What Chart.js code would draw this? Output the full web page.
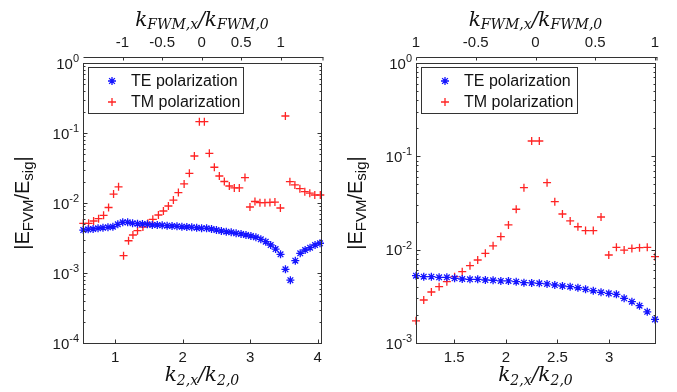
<!DOCTYPE html>
<html>
<head>
<meta charset="utf-8">
<script src="https://cdn.jsdelivr.net/npm/chart.js@4.4.0/dist/chart.umd.min.js"></script>
<style>
body { margin: 0; background: #fff; }
#wrap { position: relative; width: 677px; height: 392px; }
.pane { position: absolute; top: 0; height: 392px; }
</style>
</head>
<body>
<div id="wrap">
  <div class="pane" style="left:0;width:340px"><canvas id="leftChart" width="340" height="392"></canvas></div>
  <div class="pane" style="left:340px;width:337px"><canvas id="rightChart" width="337" height="392"></canvas></div>
</div>
<script>
// series names
const seriesNames = ['TE polarization', 'TM polarization'];

// left panel: k2,x/k2,0 from ~0.5 to ~4
const leftTeX = [0.526,0.599,0.672,0.745,0.818,0.892,0.965,1.038,1.111,1.184,1.257,1.330,1.403,1.476,1.549,1.623,1.696,1.769,1.842,1.915,1.988,2.061,2.134,2.207,2.280,2.354,2.427,2.500,2.573,2.646,2.719,2.792,2.865,2.938,3.011,3.085,3.158,3.231,3.304,3.377,3.450,3.523,3.596,3.669,3.742,3.815,3.888,3.962,4.035];
const leftTeY = [4.11e-3,4.20e-3,4.25e-3,4.35e-3,4.44e-3,4.50e-3,4.58e-3,4.96e-3,5.30e-3,5.30e-3,5.13e-3,5.06e-3,5.01e-3,4.96e-3,4.85e-3,4.85e-3,4.80e-3,4.74e-3,4.69e-3,4.65e-3,4.58e-3,4.54e-3,4.50e-3,4.44e-3,4.35e-3,4.35e-3,4.25e-3,4.11e-3,3.98e-3,3.89e-3,3.81e-3,3.69e-3,3.61e-3,3.49e-3,3.38e-3,3.24e-3,3.03e-3,2.80e-3,2.51e-3,2.20e-3,1.85e-3,1.13e-3,7.9e-4,1.50e-3,1.91e-3,2.13e-3,2.30e-3,2.51e-3,2.66e-3];
const leftTmX = [0.526,0.605,0.679,0.753,0.827,0.901,0.975,1.049,1.123,1.197,1.262,1.330,1.410,1.484,1.557,1.640,1.714,1.788,1.862,1.936,2.021,2.099,2.173,2.247,2.321,2.395,2.469,2.543,2.617,2.691,2.765,2.839,2.923,2.997,3.071,3.145,3.219,3.293,3.367,3.448,3.522,3.589,3.663,3.737,3.810,3.884,3.958,4.040];
const leftTmY = [5.13e-3,5.13e-3,5.53e-3,5.97e-3,6.67e-3,8.63e-3,1.34e-2,1.70e-2,1.77e-3,2.89e-3,3.49e-3,4.02e-3,4.54e-3,5.13e-3,5.85e-3,6.74e-3,7.69e-3,9.06e-3,1.10e-2,1.41e-2,1.87e-2,2.65e-2,4.69e-2,0.145,0.145,5.13e-2,3.24e-2,2.43e-2,2.03e-2,1.75e-2,1.64e-2,1.64e-2,2.31e-2,8.77e-3,1.05e-2,1.01e-2,1.01e-2,1.02e-2,1.03e-2,8.49e-3,0.175,2.02e-2,1.81e-2,1.60e-2,1.45e-2,1.38e-2,1.30e-2,1.30e-2];

// right panel: k2,x/k2,0 from ~1.13 to ~3.44
const rightX = [1.129,1.204,1.278,1.353,1.428,1.503,1.577,1.652,1.727,1.801,1.876,1.951,2.025,2.100,2.175,2.250,2.324,2.399,2.474,2.548,2.623,2.698,2.772,2.847,2.922,2.997,3.071,3.146,3.221,3.295,3.370,3.445];
const rightTeY = [5.26e-3,5.13e-3,5.13e-3,5.06e-3,5.06e-3,4.93e-3,4.85e-3,4.81e-3,4.81e-3,4.73e-3,4.70e-3,4.62e-3,4.62e-3,4.54e-3,4.43e-3,4.40e-3,4.36e-3,4.29e-3,4.18e-3,4.08e-3,4.01e-3,3.91e-3,3.76e-3,3.63e-3,3.49e-3,3.40e-3,3.32e-3,3.01e-3,2.77e-3,2.51e-3,2.16e-3,1.79e-3];
const rightTmY = [1.73e-3,2.89e-3,3.52e-3,4.01e-3,4.54e-3,5.13e-3,5.81e-3,6.73e-3,7.75e-3,9.14e-3,1.10e-2,1.38e-2,1.84e-2,2.71e-2,4.61e-2,0.146,0.146,5.22e-2,3.27e-2,2.41e-2,2.03e-2,1.76e-2,1.60e-2,1.60e-2,2.24e-2,8.77e-3,1.06e-2,9.91e-3,1.03e-2,1.05e-2,1.06e-2,8.41e-3];

// ticks
const leftBottomTicks = [1, 2, 3, 4];
const leftTopTicks = [-1, -0.5, 0, 0.5, 1];
const leftTopLabels = ['-1', '-0.5', '0', '0.5', '1'];
const leftDecades = [-4, -3, -2, -1, 0];
const rightBottomTicks = [1.5, 2, 2.5, 3];
const rightTopTicks = [-1, -0.5, 0, 0.5, 1];
const rightTopLabels = ['1', '-0.5', '0', '0.5', '1'];
const rightDecades = [-3, -2, -1, 0];

const SANS = '"Liberation Sans", Arial, sans-serif';
const SERIF = '"DejaVu Serif", serif';
const BLUE = '#1414ff';
const RED = '#ff2424';
const AXIS = '#333333';

function pts(xs, ys) {
    return xs.map((x, i) => ({ x: x, y: ys[i] }));
}

// text with subscripts, parts = [[text, isSub], ...]
function drawRich(ctx, parts, cx, y, mainFont, subFont, subDy) {
    let w = 0;
    parts.forEach(p => { ctx.font = p[1] ? subFont : mainFont; w += ctx.measureText(p[0]).width; });
    let x = cx - w / 2;
    ctx.textAlign = 'left';
    ctx.textBaseline = 'alphabetic';
    parts.forEach(p => {
        ctx.font = p[1] ? subFont : mainFont;
        ctx.fillText(p[0], x, p[1] ? y + subDy : y);
        x += ctx.measureText(p[0]).width;
    });
}

function marker(ctx, style, x, y, r, color) {
    ctx.strokeStyle = color;
    ctx.lineWidth = 1.3;
    ctx.beginPath();
    ctx.moveTo(x - r, y); ctx.lineTo(x + r, y);
    ctx.moveTo(x, y - r); ctx.lineTo(x, y + r);
    if (style === 'star') {
        const d = r * 0.72;
        ctx.moveTo(x - d, y - d); ctx.lineTo(x + d, y + d);
        ctx.moveTo(x - d, y + d); ctx.lineTo(x + d, y - d);
    }
    ctx.stroke();
}

const framePlugin = {
    id: 'frame',
    afterDraw(chart, args, o) {
        const ctx = chart.ctx, a = chart.chartArea;
        const xs = chart.scales.x, xt = chart.scales.xTop, ys = chart.scales.y;
        const L = Math.round(a.left) + 0.5, R = Math.round(a.right) + 0.5;
        const T = Math.round(a.top) + 0.5, B = Math.round(a.bottom) + 0.5;
        ctx.save();
        ctx.strokeStyle = AXIS;
        ctx.lineWidth = 1;
        ctx.strokeRect(L, T, R - L, B - T);

        ctx.beginPath();
        o.bottomTicks.forEach(v => {
            const px = Math.round(xs.getPixelForValue(v)) + 0.5;
            ctx.moveTo(px, B); ctx.lineTo(px, B - 4);
        });
        // log ticks on both sides
        o.decades.forEach((d, i) => {
            const py = Math.round(ys.getPixelForValue(Math.pow(10, d))) + 0.5;
            ctx.moveTo(L, py); ctx.lineTo(L + 4, py);
            ctx.moveTo(R, py); ctx.lineTo(R - 4, py);
            if (i < o.decades.length - 1) {
                for (let k = 2; k <= 9; k++) {
                    const my = Math.round(ys.getPixelForValue(k * Math.pow(10, d))) + 0.5;
                    ctx.moveTo(L, my); ctx.lineTo(L + 2, my);
                    ctx.moveTo(R, my); ctx.lineTo(R - 2, my);
                }
            }
        });
        // top axis line
        const ty = T - 6;
        ctx.moveTo(L, ty); ctx.lineTo(R + 2, ty);
        o.topTicks.forEach(v => {
            const px = Math.round(xt.getPixelForValue(v)) + 0.5;
            ctx.moveTo(px, ty); ctx.lineTo(px, ty + 3);
        });
        ctx.moveTo(R + 1.5, ty); ctx.lineTo(R + 1.5, ty + 3);
        ctx.stroke();

        // y tick labels 10^n
        ctx.fillStyle = '#1a1a1a';
        ctx.textBaseline = 'alphabetic';
        ctx.textAlign = 'left';
        o.decades.forEach(d => {
            const py = ys.getPixelForValue(Math.pow(10, d));
            const sup = String(d);
            ctx.font = '11px ' + SANS;
            const sw = ctx.measureText(sup).width;
            ctx.font = '15px ' + SANS;
            const tw = ctx.measureText('10').width;
            const xEnd = a.left - 4;
            ctx.fillText('10', xEnd - sw - tw, py + 5.5);
            ctx.font = '11px ' + SANS;
            ctx.fillText(sup, xEnd - sw, py - 1);
        });

        // axis titles
        ctx.fillStyle = '#111';
        const cx = (a.left + a.right) / 2;
        drawRich(ctx, [['k', 0], ['FWM,x', 1], ['/k', 0], ['FWM,0', 1]], cx, 26, 'italic 20px ' + SERIF, 'italic 14px ' + SERIF, 3);
        drawRich(ctx, [['k', 0], ['2,x', 1], ['/k', 0], ['2,0', 1]], cx, 381, 'italic 20px ' + SERIF, 'italic 14px ' + SERIF, 4);
        ctx.save();
        ctx.translate(o.yTitleX, (a.top + a.bottom) / 2);
        ctx.rotate(-Math.PI / 2);
        drawRich(ctx, [['|E', 0], ['FVM', 1], ['/E', 0], ['sig', 1], ['|', 0]], 0, 0, '20px ' + SANS, '15px ' + SANS, 4);
        ctx.restore();

        // legend
        const lx = a.left + 5, lyTop = 67;
        ctx.fillStyle = '#fff';
        ctx.fillRect(Math.round(lx) + 0.5, lyTop + 0.5, o.legendW, 46);
        ctx.strokeStyle = AXIS;
        ctx.lineWidth = 1;
        ctx.strokeRect(Math.round(lx) + 0.5, lyTop + 0.5, o.legendW, 46);
        const rows = [[seriesNames[0], 'star', BLUE, 81], [seriesNames[1], 'cross', RED, 102]];
        rows.forEach(r => {
            marker(ctx, r[1], a.left + 29, r[3], 4, r[2]);
            ctx.fillStyle = '#111';
            ctx.font = '16px ' + SANS;
            ctx.textBaseline = 'middle';
            ctx.fillText(r[0], a.left + 48, r[3] + 1);
        });
        ctx.restore();
    }
};

function makeChart(id, p) {
    const tickFont = { family: SANS, size: 15 };
    return new Chart(document.getElementById(id), {
        type: 'scatter',
        data: {
            datasets: [{
                label: seriesNames[0],
                data: pts(p.teX, p.teY),
                pointStyle: 'star',
                radius: 4,
                borderColor: BLUE,
                borderWidth: 1.3,
                showLine: false,
                clip: false
            }, {
                label: seriesNames[1],
                data: pts(p.tmX, p.tmY),
                pointStyle: 'cross',
                radius: 4,
                borderColor: RED,
                borderWidth: 1.3,
                showLine: false,
                clip: false
            }]
        },
        options: {
            responsive: false,
            animation: false,
            layout: { padding: { left: 0, right: p.padRight, top: 0, bottom: 0 } },
            plugins: {
                legend: { display: false },
                tooltip: { enabled: false },
                frame: {
                    bottomTicks: p.bottomTicks,
                    topTicks: p.topTicks,
                    decades: p.decades,
                    yTitleX: p.yTitleX,
                    legendW: p.legendW
                }
            },
            scales: {
                x: {
                    type: 'linear',
                    position: 'bottom',
                    min: p.xMin,
                    max: p.xMax,
                    afterBuildTicks: s => { s.ticks = p.bottomTicks.map(v => ({ value: v })); },
                    afterFit: s => { s.height = 49; s.paddingLeft = 0; s.paddingRight = 0; },
                    grid: { display: false, drawTicks: false },
                    border: { display: false },
                    ticks: { font: tickFont, color: '#1a1a1a', padding: 6, maxRotation: 0, autoSkip: false, callback: v => String(v) }
                },
                xTop: {
                    type: 'linear',
                    position: 'top',
                    min: p.topMin,
                    max: p.topMax,
                    afterBuildTicks: s => { s.ticks = p.topTicks.map(v => ({ value: v })); },
                    afterFit: s => { s.height = 63; s.paddingLeft = 0; s.paddingRight = 0; },
                    grid: { display: false, drawTicks: false },
                    border: { display: false },
                    ticks: { font: tickFont, color: '#1a1a1a', padding: 11, maxRotation: 0, autoSkip: false, callback: (v, i) => p.topLabels[i] }
                },
                y: {
                    type: 'logarithmic',
                    min: Math.pow(10, p.decades[0]),
                    max: 1,
                    afterFit: s => { s.width = p.yWidth; s.paddingTop = 0; s.paddingBottom = 0; },
                    grid: { display: false, drawTicks: false },
                    border: { display: false },
                    ticks: { display: false }
                }
            }
        },
        plugins: [framePlugin]
    });
}

makeChart('leftChart', {
    teX: leftTeX, teY: leftTeY, tmX: leftTmX, tmY: leftTmY,
    xMin: 0.522, xMax: 4.05, topMin: -1.5, topMax: 1.51,
    bottomTicks: leftBottomTicks, topTicks: leftTopTicks, topLabels: leftTopLabels,
    decades: leftDecades, yWidth: 83, padRight: 19, yTitleX: 29, legendW: 155
});

makeChart('rightChart', {
    teX: rightX, teY: rightTeY, tmX: rightX, tmY: rightTmY,
    xMin: 1.129, xMax: 3.445, topMin: -1, topMax: 1,
    bottomTicks: rightBottomTicks, topTicks: rightTopTicks, topLabels: rightTopLabels,
    decades: rightDecades, yWidth: 76, padRight: 22, yTitleX: 22, legendW: 156
});
</script>
</body>
</html>
